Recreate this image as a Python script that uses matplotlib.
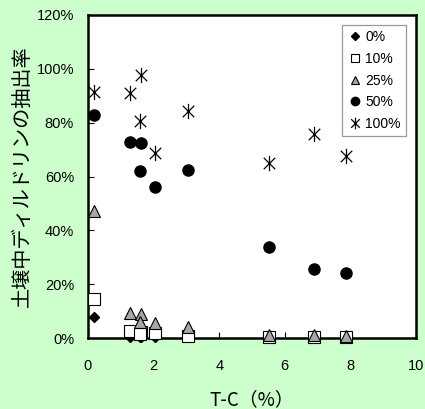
import matplotlib.pyplot as plt
import numpy as np
from matplotlib.path import Path

WIDTH_PXL = 425
HEIGHT_PXL = 409
DPI = 100

# T-C (%) values and extraction rates (%) per addition level
tc = [0.19, 1.28, 1.62, 1.60, 2.03, 3.06, 5.53, 6.90, 7.86]
rate_0 = [7.7, 0.3, 0.3, 0.2, 0.3, 0.2, 0.1, 0.1, 0.1]
rate_10 = [14.4, 2.7, 2.3, 1.5, 2.0, 0.8, 0.3, 0.3, 0.3]
rate_25 = [47.0, 9.4, 8.8, 6.0, 5.5, 4.0, 1.0, 1.0, 0.8]
rate_50 = [82.9, 72.7, 72.5, 62.1, 56.2, 62.5, 33.7, 25.5, 24.3]
rate_100 = [91.3, 91.2, 97.8, 80.8, 68.7, 84.4, 65.2, 75.7, 67.7]

labels = ['0%', '10%', '25%', '50%', '100%']
x_ticks = [0, 2, 4, 6, 8, 10]
y_ticks = [0, 20, 40, 60, 80, 100, 120]

# X with a vertical bar, like the spreadsheet star marker
star = Path(
    [(0, -1), (0, 1), (-0.75, -0.75), (0.75, 0.75), (-0.75, 0.75), (0.75, -0.75)],
    [Path.MOVETO, Path.LINETO, Path.MOVETO, Path.LINETO, Path.MOVETO, Path.LINETO])

fig = plt.figure(figsize=(WIDTH_PXL / DPI, HEIGHT_PXL / DPI), dpi=DPI, facecolor='#CCFFCC')
ax = fig.add_axes([88 / WIDTH_PXL, 1 - 338 / HEIGHT_PXL,
                   328 / WIDTH_PXL, 323 / HEIGHT_PXL])
ax.set_facecolor('white')

tick_font = 'Liberation Sans'
jp_font = ['Noto Sans CJK JP', 'DejaVu Sans']

ax.plot(tc, rate_0, linestyle='none', marker='D', markersize=5.5,
        color='black', label=labels[0], clip_on=False, zorder=3)
ax.plot(tc, rate_10, linestyle='none', marker='s', markersize=8,
        markerfacecolor='white', markeredgecolor='black', markeredgewidth=0.8,
        label=labels[1], clip_on=False, zorder=4)
ax.plot(tc, rate_25, linestyle='none', marker='^', markersize=8.5,
        markerfacecolor='#A6A6A6', markeredgecolor='black', markeredgewidth=0.8,
        label=labels[2], clip_on=False, zorder=5)
ax.plot(tc, rate_50, linestyle='none', marker='o', markersize=8,
        color='black', label=labels[3], clip_on=False, zorder=3)
ax.plot(tc, rate_100, linestyle='none', marker=star, markersize=11,
        markerfacecolor='none', markeredgecolor='black', markeredgewidth=0.9,
        label=labels[4], clip_on=False, zorder=3)

ax.set_xlim(0, 10)
ax.set_ylim(0, 120)
ax.set_xticks(x_ticks)
ax.set_xticklabels([str(v) for v in x_ticks], fontfamily=tick_font, fontsize=10.5)
ax.set_yticks(y_ticks)
ax.set_yticklabels([f'{v}%' for v in y_ticks], fontfamily=tick_font, fontsize=10.5)
ax.tick_params(direction='in', length=4, width=0.8)
ax.tick_params(axis='x', pad=15)
ax.tick_params(axis='y', pad=10)

for sp in ax.spines.values():
    sp.set_linewidth(1.8)
    sp.set_color('black')

ax.set_xlabel('T-C（%）', fontfamily=jp_font, fontsize=13.5, labelpad=12)
ax.set_ylabel('土壌中ディルドリンの抽出率', fontfamily=jp_font, fontsize=14.5, labelpad=3)

leg = ax.legend(loc='upper right', bbox_to_anchor=(0.97, 0.97), frameon=True,
                fancybox=False, prop={'family': tick_font, 'size': 10},
                handletextpad=0.15, borderpad=0.4, labelspacing=0.55,
                handlelength=1.1, markerscale=0.75, borderaxespad=0)
leg.get_frame().set_edgecolor('#808080')
leg.get_frame().set_linewidth(0.9)

fig.savefig('out.png', dpi=DPI, facecolor=fig.get_facecolor())
